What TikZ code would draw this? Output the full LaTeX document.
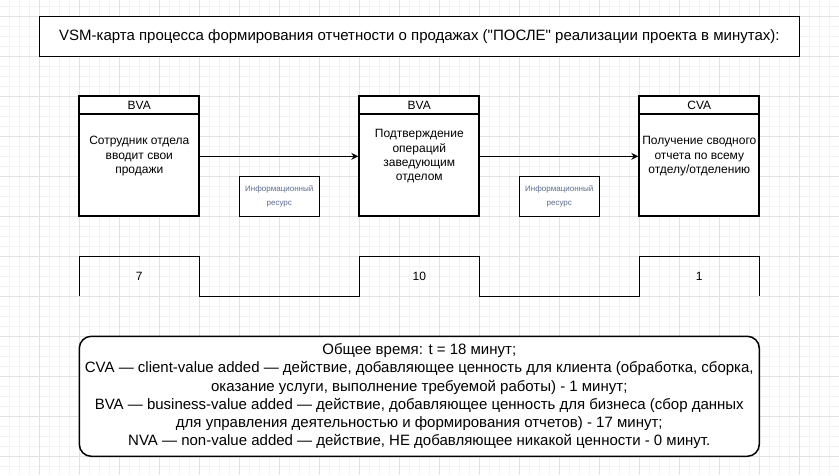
\documentclass[tikz,border=0pt]{standalone}
\usepackage{fontspec}
\setmainfont{Liberation Sans}
\usetikzlibrary{arrows.meta}
\definecolor{gridmajor}{HTML}{E2E2E2}
\definecolor{gridminor}{HTML}{F3F3F3}
\definecolor{infotext}{HTML}{5B6B8C}
\tikzset{
  gridminorline/.style={draw=gridminor, line width=0.6pt},
  gridmajorline/.style={draw=gridmajor, line width=0.7pt},
  titlebox/.style={draw, line width=1.3pt, minimum width=760pt, minimum height=40pt, inner sep=0pt,
    font=\fontsize{15}{18}\selectfont},
  procbox/.style={draw, line width=2pt, minimum width=120pt, minimum height=120pt, inner sep=0pt,
    align=center, font=\fontsize{12}{14.4}\selectfont},
  hdrbox/.style={draw, line width=2pt, minimum width=120pt, minimum height=17.7pt, inner sep=0pt,
    font=\fontsize{12}{14.4}\selectfont},
  infobox/.style={draw, line width=1pt, minimum width=80pt, minimum height=40pt, inner sep=0pt,
    align=center, text=infotext, font=\fontsize{8}{13.6}\selectfont},
  flowarrow/.style={line width=1pt, -{Stealth[length=7pt,width=7pt]}},
  timeline/.style={line width=1.2pt},
  numlabel/.style={font=\fontsize{12}{14.4}\selectfont, inner sep=0pt},
  notebox/.style={draw, line width=1.5pt, rounded corners=12pt, minimum width=680pt, minimum height=120pt,
    inner sep=0pt, align=center, font=\fontsize{15}{18.2}\selectfont}
}
\begin{document}
\begin{tikzpicture}[x=1pt,y=-1pt]
\useasboundingbox (0,0) rectangle (839,475);
\fill[white] (0,0) rectangle (839,475);
% background grid
\foreach \x in {9.3,19.3,...,839} \draw[gridminorline] (\x,0) -- (\x,475);
\foreach \y in {6.3,16.3,...,475} \draw[gridminorline] (0,\y) -- (839,\y);
\foreach \x in {39.3,79.3,...,839} \draw[gridmajorline] (\x,0) -- (\x,475);
\foreach \y in {16.3,56.3,...,475} \draw[gridmajorline] (0,\y) -- (839,\y);

% title
\node[titlebox, fill=white] (title) at (419.3,36.3) {VSM-карта процесса формирования отчетности о продажах (\textquotedbl ПОСЛЕ\textquotedbl{} реализации проекта в минутах):};

% process boxes
\node[procbox, fill=white] (p1) at (139.3,156.3) {Сотрудник отдела\\вводит свои\\продажи};
\node[procbox, fill=white] (p2) at (419.3,156.3) {Подтверждение\\операций\\заведующим\\отделом};
\node[procbox, fill=white] (p3) at (699.3,156.3) {Получение сводного\\отчета по всему\\отделу/отделению};
\node[hdrbox, anchor=north] (h1) at (p1.north) {BVA};
\node[hdrbox, anchor=north] (h2) at (p2.north) {BVA};
\node[hdrbox, anchor=north] (h3) at (p3.north) {CVA};

% arrows
\draw[flowarrow] (p1.east) -- (p2.west);
\draw[flowarrow] (p2.east) -- (p3.west);

% information resources
\node[infobox, fill=white] (i1) at (279.3,196.3) {Информационный\\ресурс};
\node[infobox, fill=white] (i2) at (559.3,196.3) {Информационный\\ресурс};

% timeline
\coordinate (t0) at (79.3,296.3);
\coordinate (t1) at (79.3,256.3);
\coordinate (t2) at (199.3,256.3);
\coordinate (t3) at (199.3,296.3);
\coordinate (t4) at (359.3,296.3);
\coordinate (t5) at (359.3,256.3);
\coordinate (t6) at (479.3,256.3);
\coordinate (t7) at (479.3,296.3);
\coordinate (t8) at (639.3,296.3);
\coordinate (t9) at (639.3,256.3);
\coordinate (t10) at (759.3,256.3);
\coordinate (t11) at (759.3,296.3);
\draw[timeline] (t0) -- (t1) -- (t2) -- (t3) -- (t4) -- (t5) -- (t6) -- (t7) -- (t8) -- (t9) -- (t10) -- (t11);
\node[numlabel] (n1) at (139.3,276.3) {7};
\node[numlabel] (n2) at (419.3,276.3) {10};
\node[numlabel] (n3) at (699.3,276.3) {1};

% note
\node[notebox, fill=white] (note) at (419.3,396.3) {Общее время: t = 18 минут;\\
CVA — client-value added — действие, добавляющее ценность для клиента (обработка, сборка,\\
оказание услуги, выполнение требуемой работы) - 1 минут;\\
BVA — business-value added — действие, добавляющее ценность для бизнеса (сбор данных\\
для управления деятельностью и формирования отчетов) - 17 минут;\\
NVA — non-value added — действие, НЕ добавляющее никакой ценности - 0 минут.};
\end{tikzpicture}
\end{document}
